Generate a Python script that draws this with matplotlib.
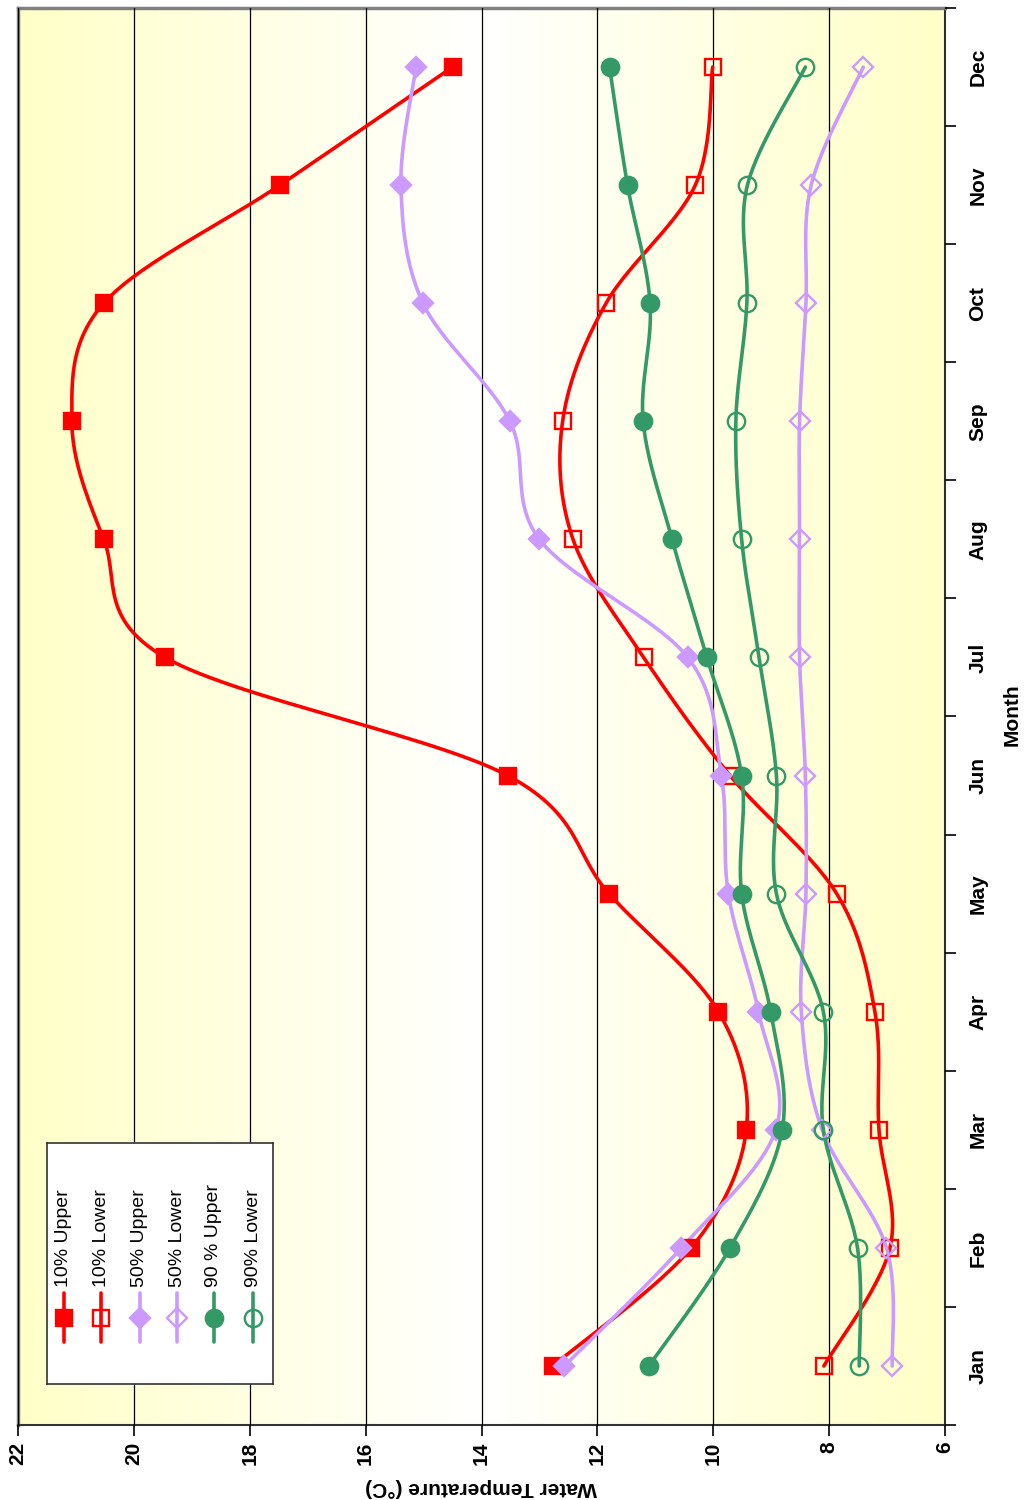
import numpy as np
import matplotlib
matplotlib.use('Agg')
import matplotlib.pyplot as plt
from matplotlib.colors import LinearSegmentedColormap
from matplotlib.lines import Line2D

plt.rcParams['font.family'] = ['Liberation Sans', 'DejaVu Sans']

# 월별 수온 데이터
months = ['Jan', 'Feb', 'Mar', 'Apr', 'May', 'Jun',
          'Jul', 'Aug', 'Sep', 'Oct', 'Nov', 'Dec']
upper10 = [12.77, 10.38, 9.43, 9.91, 11.80, 13.55, 19.46, 20.52, 21.07, 20.52, 17.48, 14.50]
lower10 = [8.09, 6.95, 7.14, 7.21, 7.87, 9.71, 11.20, 12.42, 12.60, 11.85, 10.31, 10.01]
upper50 = [12.57, 10.55, 8.92, 9.22, 9.74, 9.86, 10.44, 13.00, 13.51, 15.01, 15.39, 15.13]
lower50 = [6.91, 7.01, 8.12, 8.48, 8.40, 8.41, 8.51, 8.51, 8.51, 8.40, 8.31, 7.41]
upper90 = [11.11, 9.71, 8.81, 9.01, 9.51, 9.51, 10.11, 10.71, 11.21, 11.09, 11.48, 11.79]
lower90 = [7.48, 7.51, 8.10, 8.10, 8.91, 8.91, 9.21, 9.51, 9.61, 9.42, 9.41, 8.41]

series = [
    ('10% Upper', upper10, '#FF0000', 's', True),
    ('10% Lower', lower10, '#FF0000', 's', False),
    ('50% Upper', upper50, '#CC99FF', 'D', True),
    ('50% Lower', lower50, '#CC99FF', 'D', False),
    ('90 % Upper', upper90, '#339966', 'o', True),
    ('90% Lower', lower90, '#339966', 'o', False),
]
msize = {'s': 12, 'D': 10.5, 'o': 12.5}


def smooth(xs, ys, n=30):
    # 엑셀식 부드러운 선 (Catmull-Rom 베지어)
    p = np.column_stack([xs, ys]).astype(float)
    p = np.vstack([p[0], p, p[-1]])
    out = []
    t = np.linspace(0, 1, n)[:, None]
    for i in range(1, len(p) - 2):
        b0 = p[i]
        b1 = p[i] + (p[i + 1] - p[i - 1]) / 6
        b2 = p[i + 1] - (p[i + 2] - p[i]) / 6
        b3 = p[i + 1]
        seg = ((1 - t) ** 3) * b0 + 3 * ((1 - t) ** 2) * t * b1 + 3 * (1 - t) * t ** 2 * b2 + t ** 3 * b3
        out.append(seg)
    out = np.vstack(out)
    return out[:, 0], out[:, 1]


fig = plt.figure(figsize=(10.25, 15), dpi=100)
W, H = 1025, 1500
ax = fig.add_axes([18 / W, 1 - 1425 / H, (945 - 18) / W, (1425 - 8) / H])

# 배경 그라데이션
cmap = LinearSegmentedColormap.from_list('bg', ['#FFFFC8', '#FFFFFF', '#FFFFC8'])
ax.imshow(np.linspace(0, 1, 256)[None, :], extent=[22, 6, 0.5, 12.5], aspect='auto',
          cmap=cmap, zorder=0, interpolation='bicubic')

pos = np.arange(1, 13)
for label, vals, color, mk, filled in series:
    sx, sy = smooth(pos, vals)
    ax.plot(sy, sx, color=color, lw=2.6, solid_capstyle='round', zorder=3)
    ax.plot(vals, pos, ls='none', marker=mk, ms=msize[mk], color=color,
            mfc=color if filled else 'none', mew=1.7, zorder=4)

ax.set_xlim(22, 6)
ax.set_ylim(0.5, 12.5)

# 온도 축 (아래)
ax.set_xticks(np.arange(22, 5, -2))
ax.set_xticklabels([str(v) for v in range(22, 5, -2)], rotation=90,
                   fontsize=15, fontweight='bold')
ax.tick_params(axis='x', direction='out', length=8, width=1.2, pad=4)
ax.grid(axis='x', color='black', lw=0.9, zorder=1)
ax.set_axisbelow(False)

# 월 축 (오른쪽)
ax.yaxis.tick_right()
ax.set_yticks(np.arange(0.5, 13, 1))
ax.set_yticklabels([])
ax.set_yticks(pos, minor=True)
ax.set_yticklabels(months, minor=True, rotation=90, va='center',
                   fontsize=15, fontweight='bold')
ax.tick_params(axis='y', which='major', direction='out', length=8, width=1.2)
ax.tick_params(axis='y', which='minor', length=0, pad=17)

for s in ['top', 'left']:
    ax.spines[s].set_color('#808080')
    ax.spines[s].set_linewidth(2.5)
for s in ['bottom', 'right']:
    ax.spines[s].set_color('#333333')
    ax.spines[s].set_linewidth(1.5)

fig.text(481 / W, 1 - 1487 / H, 'Water Temperature (°C)', rotation=180,
         ha='center', va='center', fontsize=15, fontweight='bold')
fig.text(1012 / W, 1 - 715 / H, 'Month', rotation=90,
         ha='center', va='center', fontsize=15, fontweight='bold')

# 범례 (세로로 회전된 형태)
lg = fig.add_axes([47 / W, 1 - 1384 / H, (273 - 47) / W, (1384 - 1143) / H])
lg.set_xlim(0, 226)
lg.set_ylim(0, 241)
lg.set_xticks([])
lg.set_yticks([])
lg.set_facecolor('white')
for s in lg.spines.values():
    s.set_color('#333333')
    s.set_linewidth(1.2)
entry_x = [17, 54, 93, 130, 167, 206]
for ex, (label, vals, color, mk, filled) in zip(entry_x, series):
    lg.add_line(Line2D([ex, ex], [42, 91], color=color, lw=2.6, solid_capstyle='round'))
    lg.add_line(Line2D([ex], [66], ls='none', marker=mk, ms=msize[mk], color=color,
                       mfc=color if filled else 'none', mew=1.7))
    lg.text(ex, 97, label, rotation=90, ha='center', va='bottom', fontsize=14)

fig.savefig('out.png', dpi=100)
